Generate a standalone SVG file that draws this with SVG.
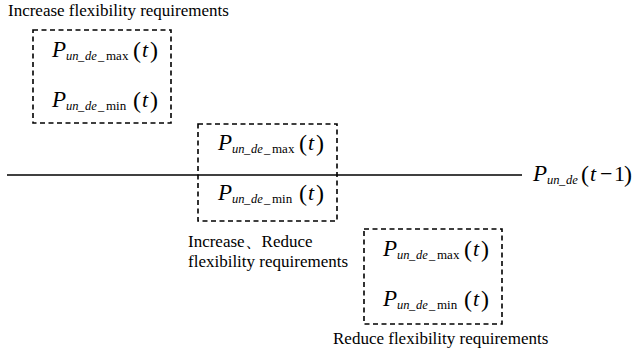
<svg xmlns="http://www.w3.org/2000/svg" width="633" height="355" viewBox="0 0 633 355" font-family="'Liberation Serif', 'Times New Roman', 'DejaVu Serif', serif">
<style>
.box{fill:none;stroke:#000;stroke-width:1.6;stroke-dasharray:5,3.5}
.ln{stroke:#000;stroke-width:1.5}
text{font-family:'Liberation Serif','Times New Roman','DejaVu Serif',serif;fill:#000}
.t{font-size:17px}
.P{font-size:23px;font-style:italic}
.s{font-size:12.5px;font-style:italic}
.sr{font-size:13px}
.pa{font-size:24px}
.ti{font-size:22px;font-style:italic}
.mi{font-size:22px}
</style>
<defs>
<g id="lmax">
<text class="P" x="0" y="0">P</text>
<text class="s" x="14" y="3">un</text>
<text class="s" x="26" y="3">_</text>
<text class="s" x="33" y="3">de</text>
<text class="s" x="46" y="3">_</text>
<text class="sr" x="54" y="3">max</text>
<text class="pa" x="81" y="1">(</text>
<text class="ti" x="90" y="0">t</text>
<text class="pa" x="98" y="1">)</text>
</g>
<g id="lmin">
<text class="P" x="0" y="0">P</text>
<text class="s" x="14" y="3">un</text>
<text class="s" x="26" y="3">_</text>
<text class="s" x="33" y="3">de</text>
<text class="s" x="46" y="3">_</text>
<text class="sr" x="54" y="3">min</text>
<text class="pa" x="81" y="1">(</text>
<text class="ti" x="90" y="0">t</text>
<text class="pa" x="98" y="1">)</text>
</g>
</defs>
<g id="connectors">
<line class="ln" x1="7" y1="175" x2="522" y2="175"/>
</g>
<g id="ref-label">
<text class="P" x="533" y="181">P</text>
<text class="s" x="547" y="184">un</text>
<text class="s" x="559" y="184">_</text>
<text class="s" x="566" y="184">de</text>
<text class="pa" x="581" y="182">(</text>
<text class="ti" x="590" y="181">t</text>
<text class="mi" x="600" y="181">−</text>
<text class="mi" x="614" y="181">1</text>
<text class="pa" x="624" y="182">)</text>
</g>
<g id="box-increase">
<text class="t" x="8" y="16">Increase flexibility requirements</text>
<rect class="box" x="33" y="30" width="138" height="93"/>
<use href="#lmax" x="52" y="57"/>
<use href="#lmin" x="52" y="107"/>
</g>
<g id="box-both">
<rect class="box" x="198" y="124" width="139" height="97"/>
<use href="#lmax" x="218" y="150"/>
<use href="#lmin" x="218" y="200"/>
<text class="t" x="188" y="247">Increase、Reduce</text>
<text class="t" x="188" y="267">flexibility requirements</text>
</g>
<g id="box-reduce">
<rect class="box" x="364" y="229" width="138" height="95"/>
<use href="#lmax" x="383" y="256"/>
<use href="#lmin" x="383" y="306"/>
<text class="t" x="333" y="344">Reduce flexibility requirements</text>
</g>
</svg>
